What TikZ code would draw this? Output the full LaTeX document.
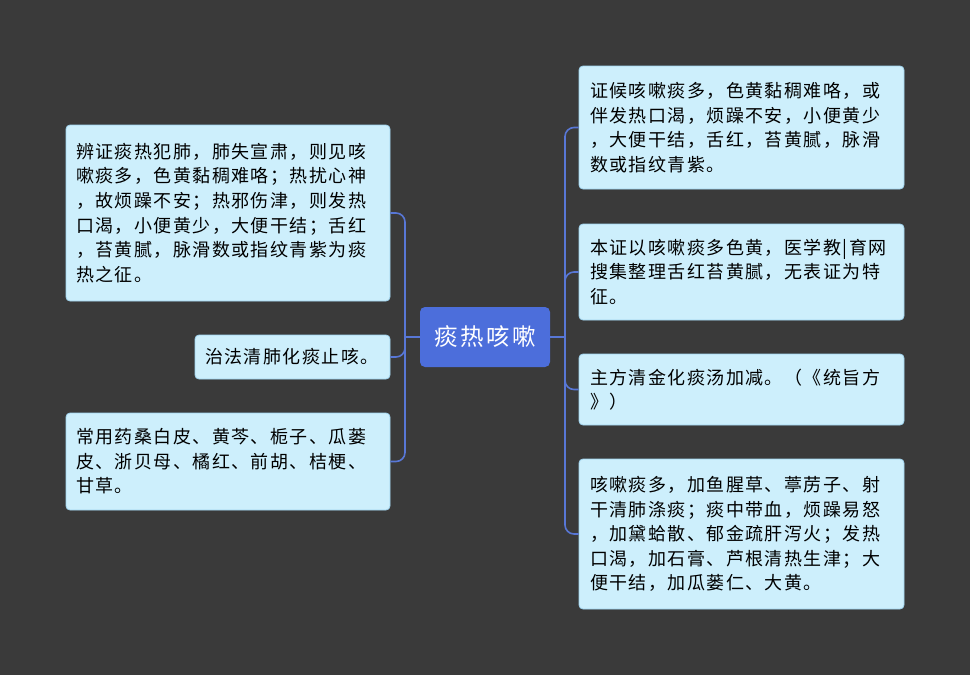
\documentclass[tikz,border=0pt]{standalone}
\usepackage{fontspec}
\setmainfont{Noto Sans CJK SC}[LetterSpace=8]
\newfontfamily\cjkbig{Noto Sans CJK SC}[LetterSpace=10]
\definecolor{bgc}{HTML}{3A3A3A}
\definecolor{boxfill}{HTML}{CDEFFC}
\definecolor{boxline}{HTML}{9FD3EE}
\definecolor{centfill}{HTML}{4C6EDB}
\definecolor{connc}{HTML}{5877D6}
\tikzset{
  leaf/.style={draw=boxline, fill=boxfill, rounded corners=4pt, line width=0.8pt,
    inner sep=0pt, align=left, text=black,
    font=\fontsize{18}{24.6}\selectfont},
  centre/.style={fill=centfill, rounded corners=5pt, inner sep=0pt,
    text=white, font=\cjkbig\fontsize{23.5}{26}\selectfont},
  conn/.style={draw=connc, line width=1.6pt, rounded corners=9pt}
}
\begin{document}
\begin{tikzpicture}[x=1pt,y=-1pt]
\fill[bgc] (0,0) rectangle (970,675);
\useasboundingbox (0,0) rectangle (970,675);

\node[centre, minimum width=130pt, minimum height=60pt] (C) at (485,337) {痰热咳嗽};

\node[leaf, minimum width=324pt, minimum height=176pt, text width=304pt] (L1) at (228,213)
 {辨证痰热犯肺，肺失宣肃，则见咳\\嗽痰多，色黄黏稠难咯；热扰心神\\，故烦躁不安；热邪伤津，则发热\\口渴，小便黄少，大便干结；舌红\\，苔黄腻，脉滑数或指纹青紫为痰\\热之征。};
\node[leaf, minimum width=195pt, minimum height=44pt, text width=175pt] (L2) at (292.5,357)
 {治法清肺化痰止咳。};
\node[leaf, minimum width=324pt, minimum height=97pt, text width=304pt] (L3) at (228,461.5)
 {常用药桑白皮、黄芩、栀子、瓜蒌\\皮、浙贝母、橘红、前胡、桔梗、\\甘草。};

\node[leaf, minimum width=325pt, minimum height=123pt, text width=303pt] (R1) at (741.5,127.5)
 {证候咳嗽痰多，色黄黏稠难咯，或\\伴发热口渴，烦躁不安，小便黄少\\，大便干结，舌红，苔黄腻，脉滑\\数或指纹青紫。};
\node[leaf, minimum width=325pt, minimum height=96pt, text width=303pt] (R2) at (741.5,272)
 {本证以咳嗽痰多色黄，医学教|育网\\搜集整理舌红苔黄腻，无表证为特\\征。};
\node[leaf, minimum width=325pt, minimum height=71pt, text width=303pt] (R3) at (741.5,389.5)
 {主方清金化痰汤加减。（《统旨方\\》）};
\node[leaf, minimum width=325pt, minimum height=150pt, text width=303pt] (R4) at (741.5,534)
 {咳嗽痰多，加鱼腥草、葶苈子、射\\干清肺涤痰；痰中带血，烦躁易怒\\，加黛蛤散、郁金疏肝泻火；发热\\口渴，加石膏、芦根清热生津；大\\便干结，加瓜蒌仁、大黄。};

\coordinate (lj) at (405,337);
\coordinate (rj) at (565,337);

\draw[conn] (C.west) -- (lj);
\draw[conn] (lj) |- (L1.east);
\draw[conn] (lj) |- (L2.east);
\draw[conn] (lj) |- (L3.east);

\draw[conn] (C.east) -- (rj);
\draw[conn] (rj) |- (R1.west);
\draw[conn] (rj) |- (R2.west);
\draw[conn] (rj) |- (R3.west);
\draw[conn] (rj) |- (R4.west);
\end{tikzpicture}
\end{document}
